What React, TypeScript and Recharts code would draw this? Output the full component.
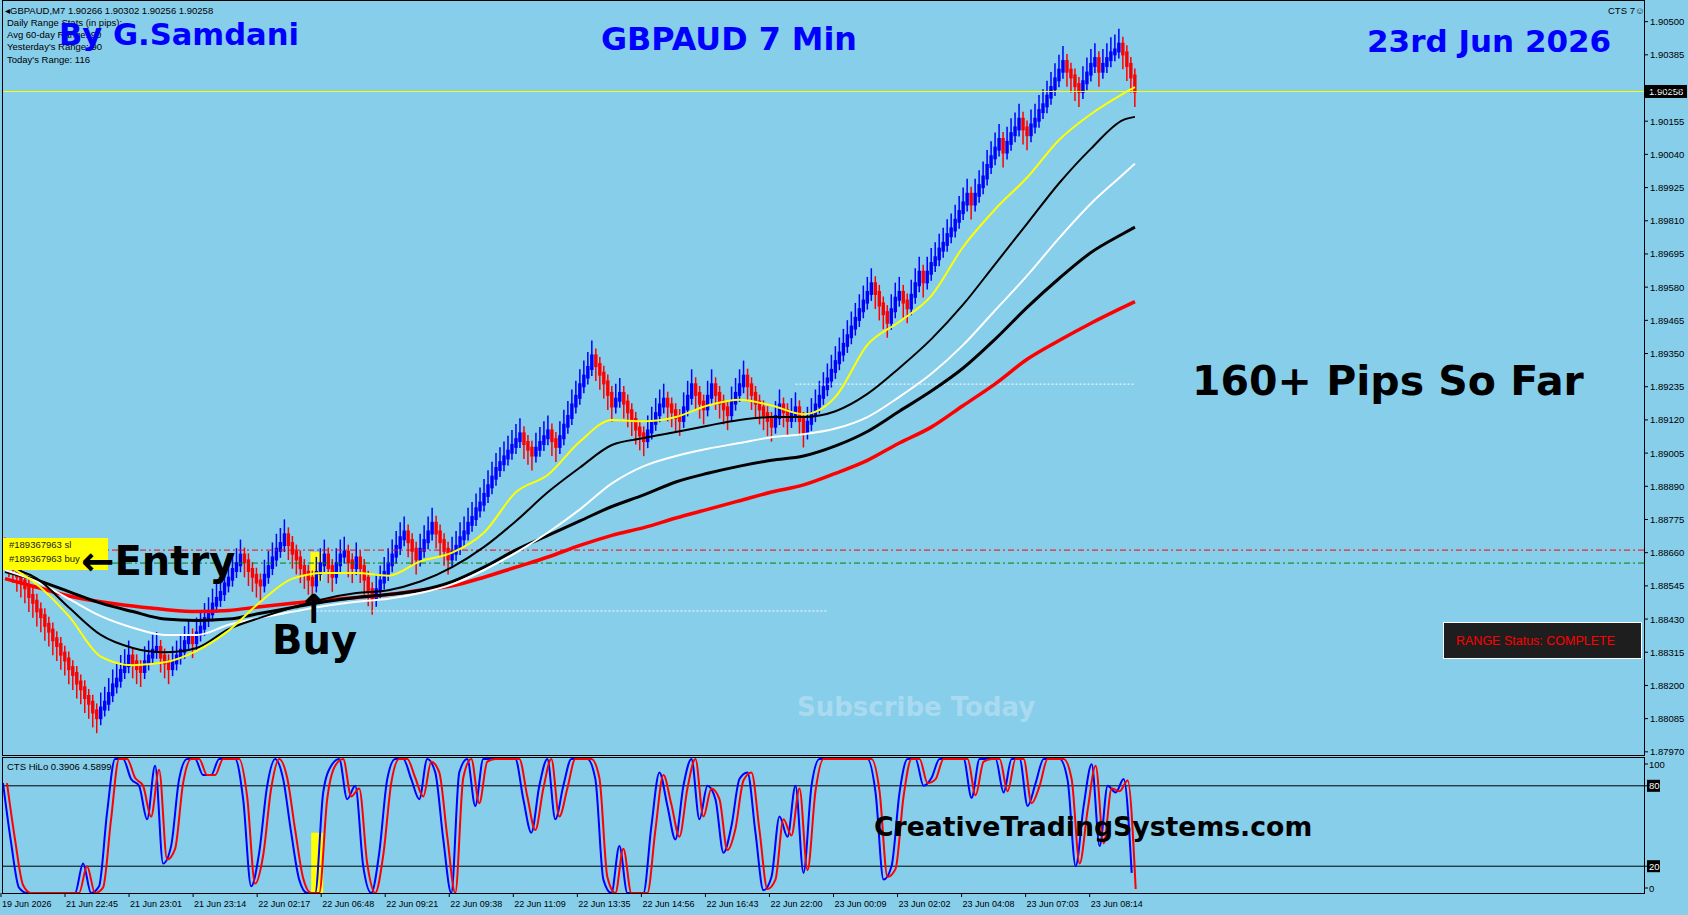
import React from 'react';
import {
  ComposedChart,
  Bar,
  Line,
  XAxis,
  YAxis,
  ReferenceLine,
  ReferenceArea,
} from 'recharts';

// prices are kept as pips above 1.88000
const BASE = 1.88;
const px = (pips: number) => +(BASE + pips / 10000).toFixed(5);

const firstOpen = 68.5;
const closes = [
  66, 63, 61, 58, 56, 54, 51, 49, 46, 44, 41, 39, 36, 34, 31, 29, 26, 24, 21, 19, 16, 14, 11, 9,
  12, 14, 17, 20, 22, 25, 27, 30,
  28, 26, 25, 28, 30, 32, 33, 30, 28, 26,
  28, 30, 32, 35, 37, 35, 38, 40, 43, 45, 48, 50, 52, 55, 57, 60, 62, 65,
  63, 60, 58, 56, 55,
  58, 61, 64, 67, 69, 72,
  69, 66, 64, 61, 59, 57, 55,
  59, 62, 65, 61, 58, 62, 65, 66, 63, 61, 64, 61, 57, 53, 50,
  53, 56, 59, 62, 65, 68, 71, 73,
  70, 67, 64,
  67, 70, 73, 76,
  73, 70, 67, 64,
  66, 68, 71, 73, 76, 78, 81, 83, 86, 89, 92, 95, 97, 99, 101, 103, 105, 107,
  104, 102, 100, 102, 104, 106, 108, 105, 103,
  106, 110, 113, 117, 120, 124, 127, 130, 134,
  131, 128, 125, 121, 117,
  119, 121, 118, 115, 112, 109, 107, 105,
  108, 111, 114, 117, 119,
  117, 115, 113, 112,
  116, 120, 124,
  121, 118, 116,
  120, 124,
  121, 118, 116, 114,
  118, 121, 124, 127,
  124, 121, 118, 116, 114, 112, 110,
  113, 117,
  115, 112,
  114, 116,
  112, 108,
  111, 114, 117, 120, 123, 126, 129, 132, 135, 138, 141, 144, 147, 150, 153, 156, 159,
  156, 152, 149, 146,
  150, 154, 156, 153, 151,
  155, 159, 163, 160,
  163, 166, 168, 171, 173, 176, 178, 181, 184, 187, 190,
  187,
  190, 193, 196, 200, 203, 206, 209,
  205,
  208, 211, 213, 216,
  213, 211,
  214, 216, 219, 221, 224, 227, 230, 233, 236,
  233, 231, 228, 226,
  229, 232, 235, 237,
  233,
  235, 237, 239, 240, 242,
  239, 235, 231, 226,
];
const lastPrice = 1.90258;

// moving averages, read at these bars
const maBars = [0, 8, 16, 24, 32, 40, 48, 56, 64, 72, 80, 88, 96, 104, 112, 120, 128, 136, 144, 152, 160, 168, 176, 184, 192, 200, 208, 216, 224, 232, 240, 248, 256, 264, 272, 280, 283];
const maYellow = [62, 55, 44, 30, 27, 28, 32, 39, 49, 57, 59, 59, 58, 63, 66, 73, 87, 93, 104.5, 112, 111.5, 113, 117, 119, 117, 114, 120, 138, 146, 155, 172, 185, 196, 209, 218, 225, 227.3];
const maBlackFast = [61, 57, 47, 37.5, 33, 31.5, 33, 39.5, 43.5, 47, 50, 52, 53, 56, 61, 68, 77, 87, 95.5, 103.3, 105.7, 107.8, 110, 112, 113, 113, 115, 121, 130, 140, 152, 166, 180, 194, 206, 215.9, 217];
const maWhite = [60, 56, 50, 44, 40, 37.5, 37.5, 41, 43.5, 45.5, 47.5, 49, 50, 52, 55, 60, 66, 73, 81, 90, 96, 99.5, 102, 104, 106, 107, 109, 113, 120, 128, 138, 150, 162, 175, 187, 197, 200.8];
const maBlackSlow = [59.5, 56.5, 52.5, 48.5, 45.6, 43, 42.5, 43, 45, 47, 49, 50.5, 51.5, 53, 56, 61, 67, 72, 77, 82, 86, 90.5, 93.5, 96, 98, 99.5, 103, 108, 115, 122, 130, 140, 151, 161, 170, 176.5, 178.8];
const maRed = [57, 54, 51, 49, 47.5, 46.3, 45.6, 46, 47.3, 48.5, 49.5, 50.5, 51.5, 53, 54.5, 57.5, 61, 64.5, 68.5, 72, 74.7, 78, 81, 84, 87, 89.5, 93.5, 98, 104, 109.5, 117, 124.5, 133, 139.5, 145.5, 151, 153];

// CTS HiLo: main line on even bars, signal line on odd bars
const hiloMain = [
  82, 38, 4, 0, 0, 0, 0, 0, 0, 0,
  22, 0, 5, 60, 100, 100, 85, 80, 55, 95,
  22, 35, 85, 100, 100, 88, 88, 100, 100, 100,
  70, 5, 30, 80, 100, 85, 45, 10, 0, 0,
  75, 95, 100, 70, 80, 20, 0, 30, 85, 100,
  100, 85, 70, 100, 90, 40, 0, 90, 100, 65,
  100, 100, 100, 100, 100, 70, 45, 80, 100, 55,
  80, 100, 100, 100, 85, 10, 0, 35, 0, 0,
  0, 50, 90, 65, 40, 80, 100, 55, 80, 70,
  30, 50, 85, 90, 45, 2, 12, 57, 42, 80,
  15, 80, 100, 100, 100, 100, 100, 100, 100, 75,
  10, 20, 75, 100, 100, 80, 86, 100, 100, 100,
  100, 71, 100, 100, 100, 75, 100, 100, 65, 82,
  100, 100, 100, 84, 20, 65, 96, 35, 80, 75,
  85, 15,
];
const hiloSignal = [
  82, 40, 6, 0, 0, 0, 0, 0, 0, 0,
  20, 0, 4, 55, 100, 100, 86, 80, 57, 92,
  25, 33, 82, 100, 100, 88, 88, 100, 100, 100,
  72, 7, 28, 78, 100, 86, 47, 11, 0, 0,
  70, 95, 100, 72, 78, 22, 0, 28, 82, 100,
  100, 86, 72, 98, 90, 42, 0, 86, 100, 67,
  98, 100, 100, 100, 100, 72, 47, 78, 100, 57,
  78, 100, 100, 100, 86, 12, 0, 33, 0, 0,
  0, 47, 88, 66, 42, 78, 100, 57, 78, 70,
  32, 48, 84, 90, 47, 3, 10, 55, 43, 78,
  17, 76, 100, 100, 100, 100, 100, 100, 100, 76,
  12, 18, 72, 100, 100, 82, 85, 100, 100, 100,
  100, 73, 98, 100, 100, 76, 100, 100, 67, 80,
  100, 100, 100, 85, 22, 62, 95, 37, 78, 76,
  84, 3,
];

const priceTicks = [
  1.8797, 1.88085, 1.882, 1.88315, 1.8843, 1.88545, 1.8866, 1.88775, 1.8889, 1.89005, 1.8912, 1.89235,
  1.8935, 1.89465, 1.8958, 1.89695, 1.8981, 1.89925, 1.9004, 1.90155, 1.9027, 1.90385, 1.905,
];
const timeLabels = [
  '19 Jun 2026', '21 Jun 22:45', '21 Jun 23:01', '21 Jun 23:14', '22 Jun 02:17', '22 Jun 06:48',
  '22 Jun 09:21', '22 Jun 09:38', '22 Jun 11:09', '22 Jun 13:35', '22 Jun 14:56', '22 Jun 16:43',
  '22 Jun 22:00', '23 Jun 00:09', '23 Jun 02:02', '23 Jun 04:08', '23 Jun 07:03', '23 Jun 08:14',
];
const timeTickBars = [0, 16, 32, 48, 64, 80, 96, 112, 128, 144, 160, 176, 192, 208, 224, 240, 256, 272];

const infoLines = [
  'Daily Range Stats (in pips):',
  'Avg 60-day Range: 90',
  "Yesterday's Range: 90",
  "Today's Range: 116",
];

const SLOTS = 411;
const rows: any[] = Array.from({ length: SLOTS }, (_, i) => ({ idx: i }));
closes.forEach((c, i) => {
  const o = i === 0 ? firstOpen : closes[i - 1];
  rows[i].body = [px(Math.min(o, c)), px(Math.max(o, c))];
  rows[i].up = c >= o;
});
maBars.forEach((b, k) => {
  rows[b].yellow = px(maYellow[k]);
  rows[b].blackFast = px(maBlackFast[k]);
  rows[b].white = px(maWhite[k]);
  rows[b].blackSlow = px(maBlackSlow[k]);
  rows[b].red = px(maRed[k]);
});
hiloMain.forEach((v, k) => (rows[k * 2].hilo = v));
hiloSignal.forEach((v, k) => (rows[k * 2 + 1].signal = v));

const BIG = "'DejaVu Sans', Verdana, sans-serif";
const SMALL = "'Liberation Sans', Arial, sans-serif";

const Candle = (props: any) => {
  const { x, y, width, height, payload } = props;
  if (!payload || !payload.body) return null;
  const cx = x + width / 2;
  const top = Math.min(y, y + height);
  const bot = Math.max(y, y + height);
  const col = payload.up ? '#0000ff' : '#ff0000';
  const w1 = payload.up ? top - 16 : top - 8;
  const w2 = payload.up ? bot + 8 : bot + 16;
  return (
    <g>
      <line x1={cx} x2={cx} y1={w1} y2={w2} stroke={col} strokeWidth={1.5} />
      <rect x={cx - 1.7} y={top - 2} width={3.4} height={Math.max(bot - top, 1) + 4} fill={col} />
    </g>
  );
};

const PriceTick = (props: any) => {
  const { x, y, payload } = props;
  return (
    <g>
      <line x1={x} x2={x + 4} y1={y} y2={y} stroke="#000" />
      <text x={x + 6} y={y + 3.5} fontSize={9.5} fontFamily={SMALL} fill="#000">
        {Number(payload.value).toFixed(5)}
      </text>
    </g>
  );
};

const HiloTick = (props: any) => {
  const { x, y, payload } = props;
  const v = payload.value;
  const boxed = v === 20 || v === 80;
  const ty = v === 100 ? y + 5 : v === 0 ? y - 5 : y;
  return (
    <g>
      <line x1={x} x2={x + 4} y1={ty} y2={ty} stroke="#000" />
      {boxed && <rect x={x + 3} y={ty - 6} width={13} height={12} fill="#000" />}
      <text x={x + 5} y={ty + 3.5} fontSize={9.5} fontFamily={SMALL} fill={boxed ? '#fff' : '#000'}>
        {v}
      </text>
    </g>
  );
};

const TimeTick = (props: any) => {
  const { x, y, payload } = props;
  const k = timeTickBars.indexOf(payload.value);
  const tx = x - 2;
  return (
    <g>
      <line x1={tx} x2={tx} y1={y} y2={y + 4} stroke="#000" />
      <text x={tx + 1} y={y + 14} fontSize={9} fontFamily={SMALL} fill="#000">
        {timeLabels[k]}
      </text>
    </g>
  );
};

const PriceTag = (props: any) => {
  const vb = props.viewBox;
  if (!vb) return null;
  const x = vb.x + vb.width;
  return (
    <g>
      <rect x={x} y={vb.y - 6.5} width={43} height={13} fill="#000" />
      <text x={x + 5} y={vb.y + 3.5} fontSize={9.5} fontFamily={SMALL} fill="#fff">
        {lastPrice.toFixed(5)}
      </text>
    </g>
  );
};

const Text = ({ left, cy, size, color = '#000', font = BIG, weight = 700, children, style }: any) => (
  <div
    style={{
      position: 'absolute',
      left,
      top: cy,
      transform: 'translateY(-50%)',
      fontFamily: font,
      fontSize: size,
      fontWeight: weight,
      color,
      lineHeight: 1,
      whiteSpace: 'nowrap',
      ...style,
    }}
  >
    {children}
  </div>
);

const maLine = (key: string, color: string, w: number) => (
  <Line
    key={key}
    dataKey={key}
    stroke={color}
    strokeWidth={w}
    dot={false}
    activeDot={false}
    connectNulls
    type="monotone"
    isAnimationActive={false}
  />
);

export default function App() {
  return (
    <div
      style={{
        position: 'fixed',
        left: 0,
        top: 0,
        width: 1688,
        height: 915,
        background: '#87ceeb',
        overflow: 'hidden',
      }}
    >
      <div style={{ position: 'absolute', left: 0, top: 0 }}>
        <ComposedChart width={1688} height={757} data={rows} margin={{ top: 2, right: 0, bottom: 2, left: 3 }}>
          <XAxis dataKey="idx" hide />
          <YAxis
            orientation="right"
            width={44}
            domain={[1.87959, 1.90568]}
            ticks={priceTicks}
            interval={0}
            allowDataOverflow
            axisLine={false}
            tickLine={false}
            tickSize={0}
            tickMargin={0}
            tick={<PriceTick />}
          />
          <ReferenceLine
            segment={[{ x: 77, y: px(45.8) }, { x: 206, y: px(45.8) }]}
            stroke="#ffffff"
            strokeDasharray="2 2"
          />
          <ReferenceLine
            segment={[{ x: 198, y: px(124.4) }, { x: 283, y: px(124.4) }]}
            stroke="#ffffff"
            strokeDasharray="2 2"
          />
          <ReferenceLine y={px(66.9)} stroke="#ff0000" strokeDasharray="6 3 2 3" />
          <ReferenceLine y={px(62.4)} stroke="#008000" strokeDasharray="6 3 2 3" />
          <ReferenceArea x1={77} x2={79} y1={px(56.2)} y2={px(66.2)} fill="#ffff00" fillOpacity={1} stroke="none" />
          <Bar dataKey="body" shape={(p: any) => <Candle {...p} />} isAnimationActive={false} />
          {maLine('red', '#ff0000', 3.5)}
          {maLine('blackSlow', '#000000', 3)}
          {maLine('white', '#ffffff', 2)}
          {maLine('blackFast', '#000000', 2)}
          {maLine('yellow', '#ffff00', 2)}
          <ReferenceLine y={lastPrice} stroke="#ffff00" label={(p: any) => <PriceTag {...p} />} />
        </ComposedChart>
      </div>

      <div style={{ position: 'absolute', left: 0, top: 757 }}>
        <ComposedChart width={1688} height={158} data={rows} margin={{ top: 2, right: 0, bottom: 0, left: 3 }}>
          <XAxis
            dataKey="idx"
            ticks={timeTickBars}
            interval={0}
            height={22}
            axisLine={false}
            tickLine={false}
            tickSize={0}
            tickMargin={0}
            tick={<TimeTick />}
          />
          <YAxis
            orientation="right"
            width={44}
            domain={[0, 100]}
            ticks={[0, 20, 80, 100]}
            interval={0}
            axisLine={false}
            tickLine={false}
            tickSize={0}
            tickMargin={0}
            tick={<HiloTick />}
          />
          <ReferenceArea x1={77} x2={80} y1={0} y2={45} fill="#ffff00" fillOpacity={1} stroke="none" />
          <ReferenceLine y={80} stroke="#000" />
          <ReferenceLine y={20} stroke="#000" />
          <Line dataKey="hilo" stroke="#0000ff" strokeWidth={2} dot={false} activeDot={false} connectNulls type="monotone" isAnimationActive={false} />
          <Line dataKey="signal" stroke="#ff0000" strokeWidth={2} dot={false} activeDot={false} connectNulls type="monotone" isAnimationActive={false} />
        </ComposedChart>
      </div>

      {/* panel frames */}
      <div style={{ position: 'absolute', left: 2, top: 0, width: 1643, height: 756, border: '1px solid #000', boxSizing: 'border-box' }} />
      <div style={{ position: 'absolute', left: 2, top: 757, width: 1643, height: 137, border: '1px solid #000', boxSizing: 'border-box' }} />

      {/* header info */}
      <Text left={5} cy={11} size={9.5} font={SMALL} weight={400}>
        {'◂GBPAUD,M7  1.90266 1.90302 1.90256 1.90258'}
      </Text>
      {infoLines.map((t, k) => (
        <Text key={t} left={7} cy={23 + k * 12.2} size={9.5} font={SMALL} weight={400}>
          {t}
        </Text>
      ))}
      <Text left={1608} cy={11} size={9.5} font={SMALL} weight={400}>
        CTS 7☺
      </Text>
      <Text left={59} cy={34.5} size={30.6} color="#0000ff">By G.Samdani</Text>
      <Text left={601} cy={39} size={31.8} color="#0000ff">GBPAUD 7 Min</Text>
      <Text left={1367} cy={41} size={31} color="#0000ff">23rd Jun 2026</Text>
      <Text left={1192} cy={381} size={41}>160+ Pips So Far</Text>

      {/* order labels */}
      <div style={{ position: 'absolute', left: 3, top: 538, width: 105, height: 32, background: '#ffff00' }} />
      <Text left={9} cy={545} size={9.5} font={SMALL} weight={400} color="#222">#189367963 sl</Text>
      <Text left={9} cy={559} size={9.5} font={SMALL} weight={400} color="#222">#189367963 buy</Text>
      <Text left={81} cy={561} size={40}>←Entry</Text>
      <Text left={297} cy={609} size={40}>↑</Text>
      <Text left={272} cy={640} size={40}>Buy</Text>

      <Text left={797} cy={707} size={26} color="#a9daf0">Subscribe Today</Text>

      <div
        style={{
          position: 'absolute',
          left: 1443,
          top: 622,
          width: 199,
          height: 37,
          background: '#1e1e1e',
          border: '1px solid #fff',
          boxSizing: 'border-box',
        }}
      />
      <Text left={1456} cy={640.5} size={12.5} font={SMALL} weight={400} color="#ff0000">
        RANGE Status: COMPLETE
      </Text>

      <Text left={7} cy={767} size={9.5} font={SMALL} weight={400}>CTS HiLo 0.3906 4.5899</Text>
      <Text left={874} cy={827} size={26.7}>CreativeTradingSystems.com</Text>
    </div>
  );
}
